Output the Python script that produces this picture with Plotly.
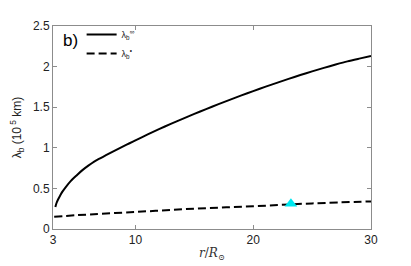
import plotly.graph_objects as go

# Data
r_inf = [3.2, 3.3, 3.45, 3.6, 3.8, 4.1, 4.5, 5.0, 5.5, 6.0, 6.5, 7.0, 7.5, 8.0, 8.5, 9.0, 9.5, 10, 11, 12, 13, 14,
         15, 16, 17, 18, 19, 20, 21, 22, 23, 24, 25, 26, 27, 28, 29, 30]
lam_inf = [0.27, 0.32, 0.37, 0.41, 0.46, 0.52, 0.59, 0.66, 0.725, 0.78, 0.83, 0.87, 0.909, 0.947, 0.984, 1.02,
           1.056, 1.092, 1.162, 1.23, 1.295, 1.357, 1.418, 1.477, 1.534, 1.59, 1.645, 1.698, 1.75, 1.80, 1.849,
           1.896, 1.941, 1.984, 2.025, 2.064, 2.098, 2.13]

r_dot = [3.1, 5, 10, 15, 20, 25, 30]
lam_dot = [0.15, 0.17, 0.21, 0.25, 0.28, 0.315, 0.34]

r_obs = [23.2]
lam_obs = [0.31]

x_ticks = [3, 10, 20, 30]
y_ticks = [0, 0.5, 1, 1.5, 2, 2.5]

fig = go.Figure()
fig.add_trace(go.Scatter(x=r_inf, y=lam_inf, mode="lines", line=dict(color="black", width=2, shape="spline", smoothing=0.8),
                         name="λ<sub>b</sub><sup>∞</sup>"))
fig.add_trace(go.Scatter(x=r_dot, y=lam_dot, mode="lines", line=dict(color="black", width=2, dash="8px,4px", shape="spline"),
                         name="λ<sub>b</sub><sup>•</sup>"))
fig.add_trace(go.Scatter(x=r_obs, y=lam_obs, mode="markers", marker=dict(symbol="triangle-up", color="#00e8f0", size=11),
                         showlegend=False))

axis_common = dict(showline=True, linecolor="#8c8c8c", linewidth=1, mirror="ticks", ticks="inside", ticklen=4,
                   tickcolor="#8c8c8c", showgrid=False, zeroline=False, automargin=False,
                   tickfont=dict(family="Liberation Sans, Arial, sans-serif", size=12, color="#222"))

# page body has an 8px margin, so the figure is sized to fit the 411x266 window
fig.update_layout(
    width=403, height=258,
    margin=dict(l=45, r=40, t=12, b=37),
    paper_bgcolor="white", plot_bgcolor="white",
    xaxis=dict(range=[3, 30], tickvals=x_ticks, ticktext=[str(v) for v in x_ticks],
               title=dict(text="<i>r</i>/<i>R</i><sub>⊙</sub>", standoff=2,
                          font=dict(family="DejaVu Serif, serif", size=12, color="#333")),
               **axis_common),
    yaxis=dict(range=[0, 2.5], tickvals=y_ticks,
               title=dict(text="λ<sub>b</sub> (10<sup> 5</sup> km)", standoff=12,
                          font=dict(family="Liberation Sans, Arial, sans-serif", size=12, color="#222")),
               **axis_common),
    legend=dict(x=0.09, y=1.03, xanchor="left", yanchor="top", bgcolor="rgba(0,0,0,0)",
                font=dict(family="Liberation Sans, Arial, sans-serif", size=9, color="#222"),
                tracegroupgap=0, itemwidth=30),
    annotations=[dict(text="b)", x=0.025, y=0.985, xref="paper", yref="paper", xanchor="left", yanchor="top",
                      showarrow=False, font=dict(family="Liberation Sans, Arial, sans-serif", size=17, color="black"))],
)

fig.write_html("out.html")
